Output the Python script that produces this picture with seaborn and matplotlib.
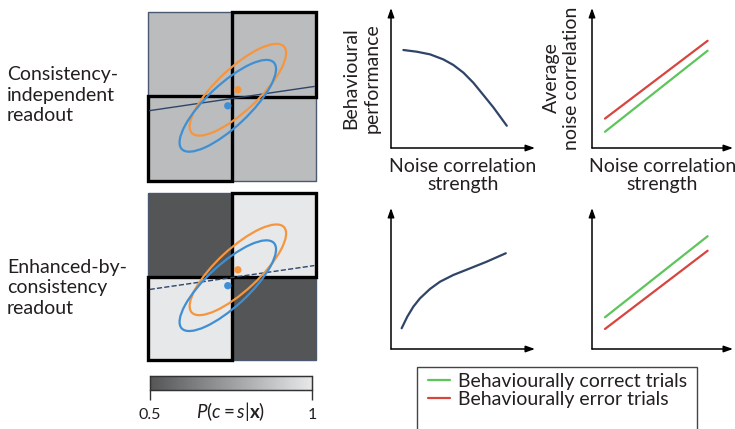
import numpy as np
import pandas as pd
import matplotlib
matplotlib.use('Agg')
import matplotlib.pyplot as plt
import seaborn as sns
from matplotlib.patches import Ellipse, Rectangle
from matplotlib.colors import LinearSegmentedColormap
from matplotlib.lines import Line2D

# ---------------- data ----------------
row_labels = ['Consistency-\nindependent\nreadout', 'Enhanced-by-\nconsistency\nreadout']
quad_top = [[0.85, 0.85], [0.85, 0.85]]          # P(c=s|x) per quadrant, top square
quad_bottom = [[0.5, 1.0], [1.0, 0.5]]            # bottom square
cbar_ticks = [0.5, 1.0]
cbar_ticklabels = ['0.5', '1']
cbar_label = r'$P(c = s|\mathbf{x})$'

orange_center = (0.07, 0.08)
blue_center = (-0.05, -0.11)
readout_x = [-0.98, 0.98]
readout_y_top = [-0.167, 0.119]
readout_y_bottom = [-0.155, 0.131]

noise_strength_perf = [0.086, 0.178, 0.271, 0.363, 0.433, 0.503, 0.572, 0.641, 0.711, 0.804]
perf_top = [0.700, 0.688, 0.669, 0.633, 0.593, 0.538, 0.466, 0.379, 0.290, 0.159]
noise_strength_perf_b = [0.074, 0.113, 0.155, 0.201, 0.271, 0.340, 0.433, 0.549, 0.664, 0.797]
perf_bottom = [0.147, 0.229, 0.300, 0.359, 0.426, 0.477, 0.525, 0.572, 0.619, 0.679]

noise_strength_corr = [0.092, 0.82]
corr_correct_top = [0.116, 0.695]
corr_error_top = [0.21, 0.766]
corr_correct_bottom = [0.225, 0.80]
corr_error_bottom = [0.142, 0.697]

legend_labels = ['Behaviourally correct trials', 'Behaviourally error trials']
xlabel_text = 'Noise correlation\nstrength'
ylabel_perf = 'Behavioural\nperformance'
ylabel_corr = 'Average\nnoise correlation'

# ---------------- style ----------------
sns.set_theme(style='white')
plt.rcParams['font.family'] = ['Lato', 'DejaVu Sans']
plt.rcParams['mathtext.fontset'] = 'custom'
plt.rcParams['mathtext.rm'] = 'Lato'
plt.rcParams['mathtext.it'] = 'Lato:italic'
plt.rcParams['mathtext.bf'] = 'Lato:bold'

W, H = 735, 429
fig = plt.figure(figsize=(W / 100, H / 100), dpi=100)
fig.patch.set_facecolor('white')


def rect(x0, y0, x1, y1):
    return [x0 / W, 1 - y1 / H, (x1 - x0) / W, (y1 - y0) / H]


cmap = LinearSegmentedColormap.from_list('pc', ['#545557', '#e7e8e9'])
ORANGE = '#f5963f'
BLUE = '#3f8fd2'
NAVY = '#2f4467'
GREEN = '#5ec55a'
RED = '#d7453f'
TXT = '#231f20'

# ---------------- left squares ----------------
sq_rects = [rect(148, 12, 316, 181), rect(148, 193, 316, 360)]
quads = [quad_top, quad_bottom]
readouts = [readout_y_top, readout_y_bottom]
styles = ['-', '--']
label_centers = [95, 288]
cax = fig.add_axes(rect(150, 376, 312, 390))

for i in range(2):
    ax = fig.add_axes(sq_rects[i])
    sns.heatmap(np.array(quads[i]), ax=ax, cmap=cmap, vmin=0.5, vmax=1.0,
                cbar=(i == 1), cbar_ax=cax if i == 1 else None,
                cbar_kws=dict(orientation='horizontal', ticks=cbar_ticks) if i == 1 else {},
                xticklabels=False, yticklabels=False)
    ov = fig.add_axes(sq_rects[i])
    ov.set_facecolor('none')
    ov.set_xlim(-1, 1)
    ov.set_ylim(-1, 1)
    ov.axis('off')
    # borders
    ov.add_patch(Rectangle((-1, -1), 2, 2, fill=False, ec='#4a5870', lw=1.0, clip_on=False))
    ov.add_patch(Rectangle((0, 0), 1, 1, fill=False, ec='black', lw=2.4, clip_on=False, zorder=3))
    ov.add_patch(Rectangle((-1, -1), 1, 1, fill=False, ec='black', lw=2.4, clip_on=False, zorder=3))
    # readout line
    sns.lineplot(x=readout_x, y=readouts[i], ax=ov, color=NAVY, lw=1.0,
                 linestyle=styles[i], sort=False, estimator=None, zorder=4)
    # ellipses
    for c, col in [(orange_center, ORANGE), (blue_center, BLUE)]:
        ov.add_patch(Ellipse(c, width=1.50, height=0.50, angle=43, fill=False,
                             ec=col, lw=1.6, zorder=5))
    sns.scatterplot(x=[orange_center[0], blue_center[0]], y=[orange_center[1], blue_center[1]],
                    hue=['o', 'b'], palette={'o': ORANGE, 'b': BLUE}, ax=ov, s=28,
                    linewidth=0, legend=False, zorder=6)
    ov.set_xlim(-1, 1)
    ov.set_ylim(-1, 1)
    fig.text(7 / W, 1 - label_centers[i] / H, row_labels[i], ha='left', va='center',
             fontsize=14, linespacing=1.25, color=TXT)

# colorbar styling
cax.tick_params(axis='x', bottom=True, top=False, length=7, width=1.0, direction='out',
                colors='#333333', labelsize=11.5, pad=6, labelcolor=TXT)
cax.set_xticks(cbar_ticks)
cax.set_xticklabels(cbar_ticklabels)
for s in cax.spines.values():
    s.set_visible(True)
    s.set_edgecolor('#333333')
    s.set_linewidth(0.9)
cax.text(0.5, -0.72, cbar_label, transform=cax.transAxes, ha='center', va='top',
         fontsize=13.5, color=TXT)

# ---------------- right panels ----------------
arrow_kw = dict(arrowstyle='-|>,head_length=0.45,head_width=0.16', color='black',
                lw=1.1, shrinkA=0, shrinkB=0)


def arrow_axes(ax):
    for s in ax.spines.values():
        s.set_visible(False)
    ax.set_xlim(0, 1)
    ax.set_ylim(0, 1)
    ax.set_xticks([])
    ax.set_yticks([])
    ax.set_xlabel('')
    ax.set_ylabel('')
    ax.set_facecolor('none')
    ax.annotate('', xy=(1, 0), xytext=(0, 0), xycoords='axes fraction',
                arrowprops=arrow_kw, annotation_clip=False)
    ax.annotate('', xy=(0, 1), xytext=(0, 0), xycoords='axes fraction',
                arrowprops=arrow_kw, annotation_clip=False)


a1 = fig.add_axes(rect(391, 8, 535, 148))
a2 = fig.add_axes(rect(592, 8, 733, 148))
a3 = fig.add_axes(rect(391, 208, 535, 349))
a4 = fig.add_axes(rect(592, 208, 733, 349))

sns.lineplot(x=noise_strength_perf, y=perf_top, ax=a1, color=NAVY, lw=1.6, sort=False, estimator=None)
sns.lineplot(x=noise_strength_perf_b, y=perf_bottom, ax=a3, color=NAVY, lw=1.6, sort=False, estimator=None)
sns.lineplot(x=noise_strength_corr, y=corr_error_top, ax=a2, color=RED, lw=1.6, estimator=None)
sns.lineplot(x=noise_strength_corr, y=corr_correct_top, ax=a2, color=GREEN, lw=1.6, estimator=None)
sns.lineplot(x=noise_strength_corr, y=corr_correct_bottom, ax=a4, color=GREEN, lw=1.6, estimator=None)
sns.lineplot(x=noise_strength_corr, y=corr_error_bottom, ax=a4, color=RED, lw=1.6, estimator=None)

for ax in (a1, a2, a3, a4):
    arrow_axes(ax)

for ax in (a1, a2):
    ax.text(0.5, -0.075, xlabel_text, transform=ax.transAxes, ha='center', va='top',
            fontsize=14, linespacing=1.05, color=TXT)
a1.text(-0.205, 0.5, ylabel_perf, transform=a1.transAxes, ha='center', va='center',
        rotation=90, fontsize=14, linespacing=1.3, color=TXT)
a2.text(-0.215, 0.5, ylabel_corr, transform=a2.transAxes, ha='center', va='center',
        rotation=90, fontsize=14, linespacing=1.2, color=TXT)

# legend
handles = [Line2D([], [], color=GREEN, lw=1.6), Line2D([], [], color=RED, lw=1.6)]
fig.legend(handles, legend_labels, loc='upper left', bbox_to_anchor=(428 / W, 1 - 373 / H),
           frameon=False, fontsize=14, handlelength=1.15, handletextpad=0.4,
           labelspacing=0.05, borderpad=0, borderaxespad=0, labelcolor=TXT)
box = Rectangle((417 / W, 1 - 445 / H), (697 - 417) / W, (445 - 367) / H,
                transform=fig.transFigure, fill=False, ec='#444444', lw=1.0)
fig.patches.append(box)

fig.savefig('out.png', dpi=100, facecolor='white')
